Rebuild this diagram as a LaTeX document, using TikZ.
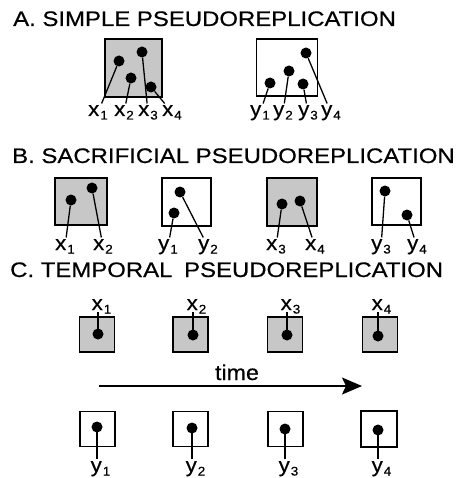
\documentclass[tikz,border=0pt]{standalone}
\usepackage{fontspec}
\setmainfont{Liberation Sans}
\newfontfamily\widesans[FakeStretch=1.14, FakeBold=0.5]{Liberation Sans}
\newfontfamily\labsans[FakeStretch=1.08, FakeBold=0.5]{Liberation Sans}
\usepackage{tikz}
\usetikzlibrary{arrows.meta}
\newcommand\lsub[1]{\kern1pt\raisebox{-3.5pt}{\fontsize{12.5}{12.5}\selectfont #1}}

\begin{document}
\begin{tikzpicture}[x=1pt, y=-1pt,
  ttl/.style={anchor=base west, inner sep=0pt, font=\widesans\fontsize{21}{21}\selectfont},
  lab/.style={anchor=base, inner sep=1.5pt, font=\labsans\fontsize{20.5}{20.5}\selectfont},
  box/.style={draw, line width=1.9pt, inner sep=0pt},
  shbox/.style={box, fill=black!22},
  dot/.style={circle, fill, inner sep=0pt, minimum size=11pt},
  ldr/.style={line width=1.3pt},
  arr/.style={-{Stealth[length=20pt, width=17pt, inset=4pt]}, line width=1.7pt}
]
\useasboundingbox (0,0) rectangle (460,478);

% A
\node[ttl] (ttlA) at (13,26) {A. SIMPLE PSEUDOREPLICATION};
\node[shbox, minimum width=57pt, minimum height=58pt] (boxAx) at (133.5,68) {};
\node[box, minimum width=61pt, minimum height=57pt] (boxAy) at (287,67.5) {};

\node[dot] (dAx1) at (119,61) {};
\node[dot] (dAx2) at (131,78) {};
\node[dot] (dAx3) at (142,52) {};
\node[dot] (dAx4) at (151,87) {};
\node[lab] (lAx1) at (98,116) {x\lsub{1}};
\node[lab] (lAx2) at (124,116) {x\lsub{2}};
\node[lab] (lAx3) at (148,116) {x\lsub{3}};
\node[lab] (lAx4) at (172,116) {x\lsub{4}};
\draw[ldr] (dAx1) -- (lAx1);
\draw[ldr] (dAx2) -- (lAx2);
\draw[ldr] (dAx3) -- (lAx3);
\draw[ldr] (dAx4) -- (lAx4);

\node[dot] (dAy1) at (270,83) {};
\node[dot] (dAy2) at (289,71) {};
\node[dot] (dAy3) at (303,84) {};
\node[dot] (dAy4) at (306,53) {};
\node[lab] (lAy1) at (260,116) {y\lsub{1}};
\node[lab] (lAy2) at (283,116) {y\lsub{2}};
\node[lab] (lAy3) at (308,116) {y\lsub{3}};
\node[lab] (lAy4) at (331,116) {y\lsub{4}};
\draw[ldr] (dAy1) -- (lAy1);
\draw[ldr] (dAy2) -- (lAy2);
\draw[ldr] (dAy3) -- (lAy3);
\draw[ldr] (dAy4) -- (lAy4);

% B
\node[ttl] (ttlB) at (12,163) {B. SACRIFICIAL PSEUDOREPLICATION};
\node[shbox, minimum width=52pt, minimum height=47pt] (boxB1) at (81,201.5) {};
\node[box, minimum width=49pt, minimum height=48pt] (boxB2) at (186.5,202) {};
\node[shbox, minimum width=50pt, minimum height=48pt] (boxB3) at (292,202) {};
\node[box, minimum width=49pt, minimum height=47pt] (boxB4) at (396.5,201.5) {};

\node[dot] (dBx1) at (71,200) {};
\node[dot] (dBx2) at (92,188) {};
\node[dot] (dBy1) at (174,213) {};
\node[dot] (dBy2) at (180,192) {};
\node[dot] (dBx3) at (282,204) {};
\node[dot] (dBx4) at (300,201) {};
\node[dot] (dBy3) at (385,191) {};
\node[dot] (dBy4) at (407,215) {};
\node[lab] (lBx1) at (65,250) {x\lsub{1}};
\node[lab] (lBx2) at (103,250) {x\lsub{2}};
\node[lab] (lBy1) at (168,250) {y\lsub{1}};
\node[lab] (lBy2) at (208,250) {y\lsub{2}};
\node[lab] (lBx3) at (276,250) {x\lsub{3}};
\node[lab] (lBx4) at (315,250) {x\lsub{4}};
\node[lab] (lBy3) at (381,250) {y\lsub{3}};
\node[lab] (lBy4) at (417,250) {y\lsub{4}};
\draw[ldr] (dBx1) -- (lBx1);
\draw[ldr] (dBx2) -- (lBx2);
\draw[ldr] (dBy1) -- (lBy1);
\draw[ldr] (dBy2) -- (lBy2);
\draw[ldr] (dBx3) -- (lBx3);
\draw[ldr] (dBx4) -- (lBx4);
\draw[ldr] (dBy3) -- (lBy3);
\draw[ldr] (dBy4) -- (lBy4);

% C
\node[ttl] (ttlC) at (10,277) {C. TEMPORAL\hspace{5pt} PSEUDOREPLICATION};
\node[shbox, minimum size=35pt] (boxCx1) at (97,334.5) {};
\node[shbox, minimum size=35pt] (boxCx2) at (190.5,334.5) {};
\node[shbox, minimum size=35pt] (boxCx3) at (285,334.5) {};
\node[shbox, minimum size=35pt] (boxCx4) at (380,334.5) {};
\node[dot] (dCx1) at (98,334) {};
\node[dot] (dCx2) at (193,335) {};
\node[dot] (dCx3) at (287,335) {};
\node[dot] (dCx4) at (378,336) {};
\node[lab] (lCx1) at (101.5,310) {x\lsub{1}};
\node[lab] (lCx2) at (196.5,310) {x\lsub{2}};
\node[lab] (lCx3) at (290.5,310) {x\lsub{3}};
\node[lab] (lCx4) at (381.5,310) {x\lsub{4}};
\draw[ldr, shorten >=1.5pt] (dCx1.center) -- (dCx1 |- lCx1.base);
\draw[ldr, shorten >=1.5pt] (dCx2.center) -- (dCx2 |- lCx2.base);
\draw[ldr, shorten >=1.5pt] (dCx3.center) -- (dCx3 |- lCx3.base);
\draw[ldr, shorten >=1.5pt] (dCx4.center) -- (dCx4 |- lCx4.base);

\coordinate (t0) at (99,386);
\coordinate (t1) at (362,386);
\node[lab, font=\labsans\fontsize{21.5}{21.5}\selectfont] (time) at (237,380) {time};
\draw[arr] (t0) -- (t1);

\node[box, minimum size=35pt] (boxCy1) at (97.5,429) {};
\node[box, minimum size=35pt] (boxCy2) at (190.5,429) {};
\node[box, minimum size=35pt] (boxCy3) at (285.5,429) {};
\node[box, minimum size=36pt] (boxCy4) at (379,429) {};
\node[dot] (dCy1) at (97,427) {};
\node[dot] (dCy2) at (192,428) {};
\node[dot] (dCy3) at (285,429) {};
\node[dot] (dCy4) at (378,430) {};
\node[lab] (lCy1) at (100.5,472) {y\lsub{1}};
\node[lab] (lCy2) at (195.5,472) {y\lsub{2}};
\node[lab] (lCy3) at (288.5,472) {y\lsub{3}};
\node[lab] (lCy4) at (381.5,472) {y\lsub{4}};
\draw[ldr] (dCy1.center) -- (dCy1 |- lCy1.north);
\draw[ldr] (dCy2.center) -- (dCy2 |- lCy2.north);
\draw[ldr] (dCy3.center) -- (dCy3 |- lCy3.north);
\draw[ldr] (dCy4.center) -- (dCy4 |- lCy4.north);
\end{tikzpicture}
\end{document}
